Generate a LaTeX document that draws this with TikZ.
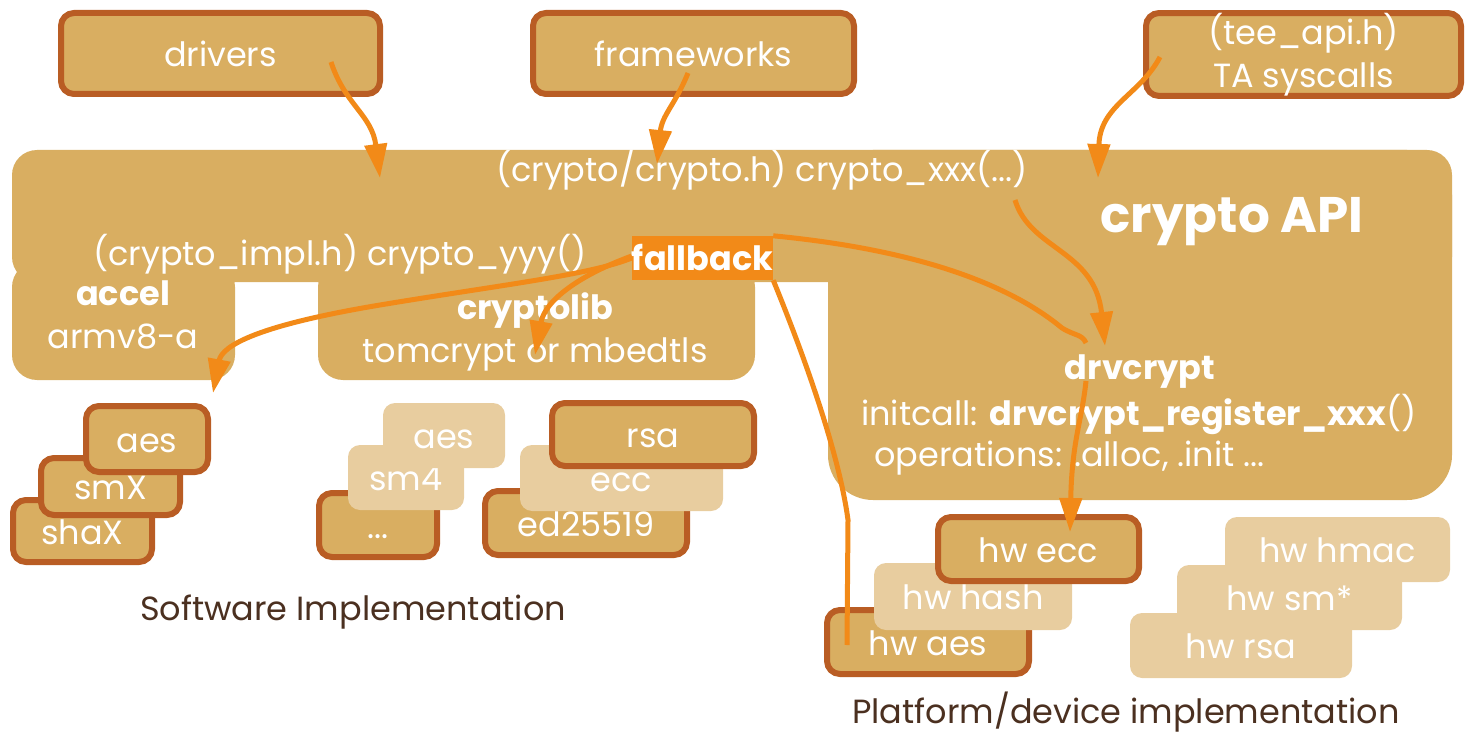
\documentclass[tikz,border=0pt]{standalone}
\usepackage{fontspec}
\setmainfont{Poppins}
\usetikzlibrary{arrows.meta}
\definecolor{dk}{HTML}{D9AE61}
\definecolor{lt}{HTML}{E8CD9F}
\definecolor{brd}{HTML}{B95D24}
\definecolor{org}{HTML}{F28A18}
\definecolor{cap}{HTML}{4B3020}
\newcommand{\txt}{\fontsize{33.5}{43}\selectfont}
\tikzset{
  dbox/.style={draw=brd, fill=dk, line width=6pt, rounded corners=13pt, text=white, inner sep=0pt, font=\txt, text height=29pt, text depth=3pt},
  lbox/.style={fill=lt, rounded corners=12pt, text=white, inner sep=0pt, font=\txt, text height=29pt, text depth=3pt},
  wt/.style={text=white, inner sep=0pt, font=\txt},
  arr/.style={draw=org, line width=5pt, -{Triangle[length=34pt,width=22pt]}},
  ln/.style={draw=org, line width=5pt},
}
\begin{document}
\begin{tikzpicture}[x=1pt,y=-1pt]
\useasboundingbox (0,0) rectangle (1466,735);
% crypto API shape
\fill[dk, rounded corners=25pt] (12,150) rectangle (1452,282);
\fill[dk, rounded corners=25pt] (12,262) rectangle (235,380);
\fill[dk, rounded corners=25pt] (318,262) rectangle (755,380);
\fill[dk, rounded corners=45pt] (828,150) rectangle (1452,500);
% top boxes
\node[dbox, minimum width=319pt, minimum height=81pt] (drv) at (220.5,53.5) {drivers};
\node[dbox, minimum width=321pt, minimum height=81pt] (fw) at (693.5,53.5) {frameworks};
\node[dbox, minimum width=315pt, minimum height=81pt, align=center, text height=, text depth=] (tee) at (1303.5,54.5) {(tee\_api.h)\\TA syscalls};
% software boxes
\node[dbox, minimum width=139pt, minimum height=62pt] (shax) at (82.5,531) {shaX};
\node[dbox, minimum width=139pt, minimum height=57pt] (smx) at (110.5,486.5) {smX};
\node[dbox, minimum width=122pt, minimum height=66pt] (aesa) at (147,439) {aes};
\node[dbox, minimum width=118pt, minimum height=64pt] (dots) at (378,525) {...};
\node[lbox, minimum width=116pt, minimum height=65pt] (smf) at (406,477.5) {sm4};
\node[lbox, minimum width=122pt, minimum height=65pt] (aesb) at (444,435.5) {aes};
\node[dbox, minimum width=202pt, minimum height=64pt] (ed) at (586,523) {ed25519};
\node[lbox, minimum width=203pt, minimum height=66pt] (ecc) at (621.5,478) {ecc};
\node[dbox, minimum width=202pt, minimum height=63pt] (rsa) at (653,434.5) {rsa};
% hardware boxes
\node[dbox, minimum width=202pt, minimum height=64pt] (hwaes) at (928,642) {hw aes};
\node[lbox, minimum width=198pt, minimum height=67pt] (hwhash) at (973,596.5) {hw hash};
\node[dbox, minimum width=201pt, minimum height=64pt] (hwecc) at (1038.5,549) {hw ecc};
\node[lbox, minimum width=222pt, minimum height=65pt] (hwrsa) at (1241,645.5) {hw rsa};
\node[lbox, minimum width=225pt, minimum height=65pt] (hwsm) at (1289.5,597.5) {hw sm*};
\node[lbox, minimum width=225pt, minimum height=65pt] (hwhmac) at (1337.5,549.5) {hw hmac};
% captions
\node[text=cap, font=\txt, inner sep=0pt] (swcap) at (353,612) {Software Implementation};
\node[text=cap, font=\txt, inner sep=0pt] (hwcap) at (1126,712) {Platform/device implementation};
% texts in crypto API
\node[wt] (capi) at (762,170) {(crypto/crypto.h) crypto\_xxx(...)};
\node[wt, font=\fontsize{50}{54}\selectfont\bfseries] (title) at (1232,222) {crypto API};
\node[wt] (impl) at (340,254) {(crypto\_impl.h) crypto\_yyy()};
\node[wt, font=\txt\bfseries] (accel) at (123,293) {accel};
\node[wt] (armv) at (123,337) {armv8-a};
\node[wt, font=\txt\bfseries] (clib) at (535,311) {cryptolib};
\node[wt] (tom) at (535,354) {tomcrypt or mbedtls};
\node[wt, font=\txt\bfseries] (dcr) at (1140,372) {drvcrypt};
\node[wt] (init) at (1139,414) {initcall: \textbf{drvcrypt\_register\_xxx}()};
\node[wt, anchor=west] (ops) at (874,458) {operations: .alloc, .init ...};
% coordinates
\coordinate (p1) at (331,62);  \coordinate (t1) at (380,178);
\coordinate (p2) at (688,73);  \coordinate (t2) at (657,164);
\coordinate (p3) at (1160,57); \coordinate (t3) at (1098,178);
\coordinate (p4) at (1015,200); \coordinate (t4) at (1105,346);
\coordinate (t5) at (213,393);
\coordinate (t6) at (535,355);
\coordinate (e7) at (1086,343);
\coordinate (p8) at (1086,381); \coordinate (t8) at (1070,532);
\coordinate (e9) at (847,645);
% arrows
\draw[arr] (p1) .. controls (345,105) and (372,115) .. (t1);
\draw[arr] (p2) .. controls (675,105) and (662,115) .. (t2);
\draw[arr] (p3) .. controls (1140,95) and (1100,105) .. (t3);
\draw[arr] (p4) .. controls (1030,250) and (1095,250) .. (t4);
% fallback
\node[fill=org, text=white, font=\txt\bfseries, inner sep=0pt, minimum width=141pt, minimum height=44pt] (fb) at (702.5,258) {fallback};
\draw[arr] (fb.west) .. controls (590,275) and (500,285) .. (380,305) .. controls (260,325) and (222,345) .. (t5);
\draw[arr] ([yshift=2pt]fb.west) .. controls (580,275) and (545,300) .. (t6);
\draw[ln] (fb.north east) .. controls (920,250) and (1010,285) .. (1062,328) .. controls (1075,336) and (1082,334) .. (e7);
\draw[arr] (p8) .. controls (1082,420) and (1072,440) .. (t8);
\draw[ln] (fb.south east) .. controls (810,370) and (840,460) .. (848,520) -- (e9);
\end{tikzpicture}
\end{document}
